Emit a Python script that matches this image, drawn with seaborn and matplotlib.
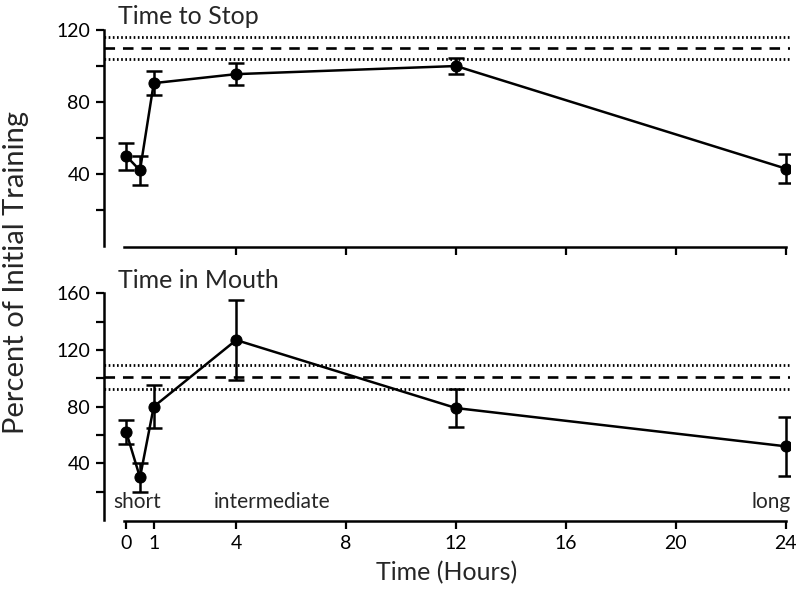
import matplotlib
matplotlib.use("Agg")
import matplotlib.pyplot as plt
import pandas as pd
import seaborn as sns

# data
hours = [0, 0.5, 1, 4, 12, 24]
stop_mean = [50, 42, 90.5, 95.5, 100, 43]
stop_err = [7.5, 8, 6.5, 6, 4.5, 8]
mouth_mean = [62, 30, 80, 127, 79, 52]
mouth_err = [8.5, 10, 15, 28, 13.5, 21]

stop_ref = 110
stop_ref_sd = 6.3
mouth_ref = 101
mouth_ref_sd = 8.5

sns.set_theme(style="ticks")
plt.rcParams["font.family"] = ["Lato", "DejaVu Sans"]

fig = plt.figure(figsize=(8, 5.93), dpi=100)
ax_top = fig.add_axes([0.13, 0.5836, 0.8575, 0.3688])
ax_bot = fig.add_axes([0.13, 0.1219, 0.8575, 0.3859])


def draw_panel(ax, y, err, ref, sd, ylim, major, minor, title):
    df = pd.DataFrame({"hours": hours, "value": y})
    ax.errorbar(hours, y, yerr=err, fmt="none", ecolor="black",
                elinewidth=1.8, capsize=5.5, capthick=1.8, zorder=3)
    sns.lineplot(data=df, x="hours", y="value", ax=ax, color="black",
                 linewidth=1.8, marker="o", markersize=8,
                 markeredgecolor="black", zorder=4)
    ax.axhline(ref, color="black", lw=1.9, linestyle=(0, (4, 3)))
    ax.axhline(ref + sd, color="black", lw=2.0, linestyle=(0, (0.6, 0.9)))
    ax.axhline(ref - sd, color="black", lw=2.0, linestyle=(0, (0.6, 0.9)))

    ax.set_xlim(-0.81, 24.15)
    ax.set_ylim(*ylim)
    ax.set_yticks(major)
    ax.set_yticks(minor, minor=True)
    ax.tick_params(axis="both", which="both", direction="out", width=1.6,
                   length=6, labelsize=14, colors="black", pad=4)
    for s in ["top", "right"]:
        ax.spines[s].set_visible(False)
    for s in ["left", "bottom"]:
        ax.spines[s].set_linewidth(1.8)
        ax.spines[s].set_color("black")
    ax.spines["left"].set_bounds(0, major[-1])
    ax.spines["bottom"].set_bounds(-0.1, 24)
    ax.set_xlabel("")
    ax.set_ylabel("")
    ax.text(0.02, 1.0, title, transform=ax.transAxes,
            fontsize=18, ha="left", va="bottom")


draw_panel(ax_top, stop_mean, stop_err, stop_ref, stop_ref_sd,
           (-0.5, 121), [40, 80, 120], [20, 60, 100], "Time to Stop")
ax_top.set_xticks([4, 8, 12, 16, 20, 24])
ax_top.set_xticklabels([])

draw_panel(ax_bot, mouth_mean, mouth_err, mouth_ref, mouth_ref_sd,
           (-0.5, 161), [40, 80, 120, 160], [20, 60, 100, 140], "Time in Mouth")
ax_bot.set_xticks([0, 1, 4, 8, 12, 16, 20, 24])
ax_bot.set_xticklabels(["0", "1", "4", "8", "12", "16", "20", "24"])

ax_bot.text(0.4, 13, "short", ha="center", va="center", fontsize=15)
ax_bot.text(5.3, 13, "intermediate", ha="center", va="center", fontsize=15)
ax_bot.text(23.45, 13, "long", ha="center", va="center", fontsize=15)

ax_bot.set_xlabel("Time (Hours)", fontsize=18, labelpad=7)
fig.text(0.02, 0.54, "Percent of Initial Training", rotation=90,
         ha="center", va="center", fontsize=21)

fig.savefig("out.png", dpi=100)
